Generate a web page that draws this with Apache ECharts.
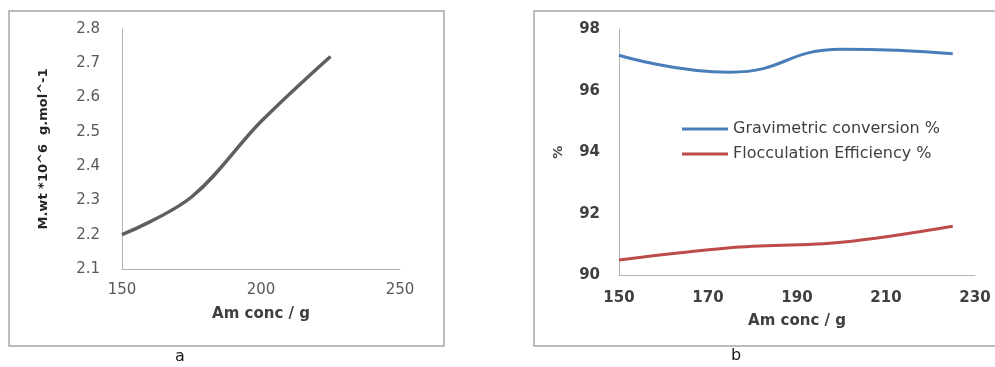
<!DOCTYPE html>
<html>
<head>
<meta charset="utf-8">
<script src="https://cdn.jsdelivr.net/npm/echarts@6/dist/echarts.min.js"></script>
<style>
html,body{margin:0;padding:0;background:#fff;}
#c{width:995px;height:367px;}
</style>
</head>
<body>
<div id="c"></div>
<script>
// Panel a
var amConcA = [150, 175, 200, 225];
var molWeight = [2.2, 2.31, 2.53, 2.72];
var xTicksA = [150, 200, 250];
var yTicksA = [2.1, 2.2, 2.3, 2.4, 2.5, 2.6, 2.7, 2.8];
// Panel b
var amConcB = [150, 175, 200, 225];
var gravimetric = [97.15, 96.6, 97.34, 97.2];
var flocculation = [90.5, 90.9, 91.08, 91.6];
var xTicksB = [150, 170, 190, 210, 230];
var yTicksB = [90, 92, 94, 96, 98];
var seriesNames = ['Gravimetric conversion %', 'Flocculation Efficiency %'];

function pairs(xs, ys) { return xs.map(function (x, i) { return [x, ys[i]]; }); }

var chart = echarts.init(document.getElementById('c'), null, {renderer: 'canvas'});
var axisLine = {show: true, lineStyle: {color: '#b4b4b4', width: 1}};
chart.setOption({
  animation: false,
  backgroundColor: '#fff',
  grid: [
    {left: 122, top: 29, width: 278, height: 240},
    {left: 619, top: 29, width: 356, height: 246.5}
  ],
  legend: {
    data: seriesNames,
    orient: 'vertical',
    left: 677, top: 116,
    icon: 'rect', itemWidth: 46, itemHeight: 3, itemGap: 9,
    textStyle: {fontFamily: 'DejaVu Sans', fontSize: 16, color: '#404040'}
  },
  xAxis: [
    {gridIndex: 0, type: 'value', min: 150, max: 250, interval: 50,
     axisLine: axisLine, axisTick: {show: false}, splitLine: {show: false},
     axisLabel: {margin: 14, fontFamily: 'DejaVu Sans', fontSize: 15, color: '#595959',
                 customValues: xTicksA},
     name: 'Am conc / g', nameLocation: 'middle', nameGap: 38,
     nameTextStyle: {fontFamily: 'DejaVu Sans', fontWeight: 'bold', fontSize: 15, color: '#404040'}},
    {gridIndex: 1, type: 'value', min: 150, max: 230,
     axisLine: axisLine, axisTick: {show: false}, splitLine: {show: false},
     axisLabel: {margin: 15, fontFamily: 'DejaVu Sans', fontWeight: 'bold', fontSize: 15, color: '#404040',
                 customValues: xTicksB},
     name: 'Am conc / g', nameLocation: 'middle', nameGap: 38,
     nameTextStyle: {fontFamily: 'DejaVu Sans', fontWeight: 'bold', fontSize: 15, color: '#404040'}}
  ],
  yAxis: [
    {gridIndex: 0, type: 'value', min: 2.1, max: 2.8,
     axisLine: axisLine, axisTick: {show: false}, splitLine: {show: false},
     axisLabel: {margin: 22, fontFamily: 'DejaVu Sans', fontSize: 15, color: '#595959',
                 customValues: yTicksA, formatter: function (v) { return v.toFixed(1); }},
     name: 'M.wt *10^6  g.mol^-1', nameLocation: 'middle', nameGap: 72,
     nameTextStyle: {fontFamily: 'DejaVu Sans', fontWeight: 'bold', fontSize: 13, color: '#262626'}},
    {gridIndex: 1, type: 'value', min: 90, max: 98, interval: 2,
     axisLine: axisLine, axisTick: {show: false}, splitLine: {show: false},
     axisLabel: {margin: 19, fontFamily: 'DejaVu Sans', fontWeight: 'bold', fontSize: 15, color: '#404040',
                 customValues: yTicksB},
     name: '%', nameLocation: 'middle', nameGap: 54,
     nameTextStyle: {fontFamily: 'DejaVu Sans', fontWeight: 'bold', fontSize: 13, color: '#404040'}}
  ],
  series: [
    {type: 'line', xAxisIndex: 0, yAxisIndex: 0, smooth: 0.35, showSymbol: false,
     lineStyle: {color: '#5f5f5f', width: 3.5}, data: pairs(amConcA, molWeight)},
    {name: seriesNames[0], type: 'line', xAxisIndex: 1, yAxisIndex: 1, smooth: 0.5, showSymbol: false,
     itemStyle: {color: '#4a7ebb'}, lineStyle: {color: '#4a7ebb', width: 3}, data: pairs(amConcB, gravimetric)},
    {name: seriesNames[1], type: 'line', xAxisIndex: 1, yAxisIndex: 1, smooth: 0.35, showSymbol: false,
     itemStyle: {color: '#be4b48'}, lineStyle: {color: '#be4b48', width: 3}, data: pairs(amConcB, flocculation)}
  ],
  graphic: [
    {type: 'rect', shape: {x: 9, y: 11, width: 435, height: 335}, silent: true,
     style: {fill: 'none', stroke: '#a6a6a6', lineWidth: 1.5}},
    {type: 'rect', shape: {x: 534, y: 11, width: 480, height: 335}, silent: true,
     style: {fill: 'none', stroke: '#a6a6a6', lineWidth: 1.5}},
    {type: 'text', left: 175, top: 349, silent: true,
     style: {text: 'a', font: '16px "DejaVu Sans"', fill: '#1a1a1a'}},
    {type: 'text', left: 731, top: 348, silent: true,
     style: {text: 'b', font: '16px "DejaVu Sans"', fill: '#1a1a1a'}}
  ]
});
</script>
</body>
</html>
